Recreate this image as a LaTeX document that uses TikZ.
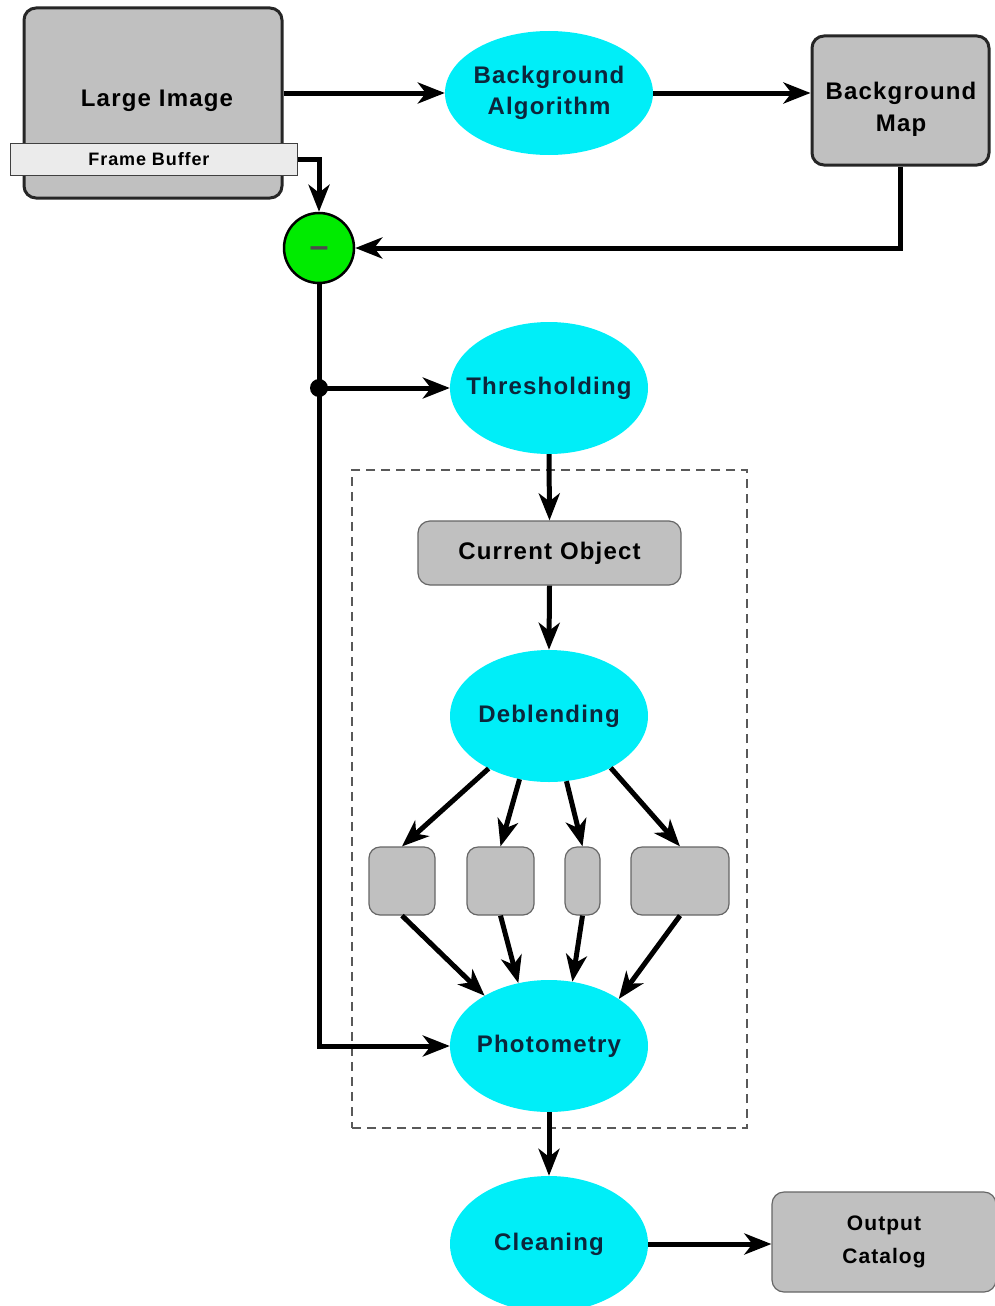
\documentclass[tikz,border=0pt]{standalone}
\usepackage{fontspec}
\setmainfont{Liberation Sans}[LetterSpace=5]
\usetikzlibrary{arrows.meta,shapes.geometric}
\definecolor{cy}{RGB}{0,238,248}
\definecolor{bx}{RGB}{192,192,192}
\definecolor{tx}{RGB}{12,38,60}
\definecolor{gr}{RGB}{0,235,0}
\begin{document}
\begin{tikzpicture}[x=1pt,y=-1pt,
  proc/.style={ellipse, fill=cy, inner xsep=-30pt, inner ysep=-10pt, text=tx, align=center,
    font=\fontsize{24}{31}\selectfont\bfseries},
  bigbox/.style={rectangle, rounded corners=12pt, fill=bx, draw=black!85,
    line width=3pt, inner sep=0pt, align=center, font=\fontsize{24}{31}\selectfont\bfseries},
  thinbox/.style={rectangle, rounded corners=11pt, fill=bx, draw=black!60,
    line width=1.2pt, inner sep=0pt, align=center},
  lbl/.style={align=center, inner sep=0pt},
  arr/.style={line width=5pt, -{Stealth[length=27pt,width=21pt,inset=8pt]}},
  grpbox/.style={draw=black!65, line width=1.5pt, dash pattern=on 9pt off 6pt},
]
\useasboundingbox (0,0) rectangle (994,1306);

% top row
\node[bigbox, minimum width=258pt, minimum height=190pt] (large) at (153,103) {};
\node[lbl, font=\fontsize{24}{31}\selectfont\bfseries] (largetxt) at (157,101) {Large Image};
\node[draw=black!75, fill=black!8, line width=1pt, minimum width=287pt, minimum height=32pt,
      inner sep=0pt] (fb) at (153.5,159) {};
\node[lbl, font=\fontsize{18}{20}\selectfont\bfseries] (fbtxt) at (149,159) {Frame Buffer};
\node[proc, minimum width=208pt, minimum height=124pt] (bga) at (549,93) {Background\\Algorithm};
\node[bigbox, minimum width=177pt, minimum height=129pt] (map) at (900.5,100.5) {};
\node[lbl, font=\fontsize{24}{32}\selectfont\bfseries] (maptxt) at (901,109) {Background\\Map};

\node[circle, fill=gr, draw=black, line width=2.5pt, minimum size=70pt, inner sep=0pt] (minus) at (319,248) {};
\node[lbl, text=black!70, font=\fontsize{34}{34}\selectfont\bfseries] (minustxt) at (319,252) {\textendash};

\node[circle, fill=black, minimum size=18pt, inner sep=0pt] (dot) at (319,388) {};

% main column
\node[proc, minimum width=198pt, minimum height=132pt] (thr) at (549,388) {Thresholding};
\node[grpbox, minimum width=395pt, minimum height=658pt, inner sep=0pt] (grp) at (549.5,799) {};
\node[thinbox, minimum width=263pt, minimum height=64pt, rounded corners=12pt,
      font=\fontsize{24}{28}\selectfont\bfseries] (cur) at (549.5,553) {Current Object};
\node[proc, minimum width=198pt, minimum height=132pt] (deb) at (549,716) {Deblending};

\node[thinbox, minimum width=66pt, minimum height=68pt] (b1) at (402,881) {};
\node[thinbox, minimum width=67pt, minimum height=68pt] (b2) at (500.5,881) {};
\node[thinbox, minimum width=35pt, minimum height=68pt, rounded corners=12pt] (b3) at (582.5,881) {};
\node[thinbox, minimum width=98pt, minimum height=68pt] (b4) at (680,881) {};

\node[proc, minimum width=198pt, minimum height=132pt] (phot) at (549,1046) {Photometry};
\node[proc, minimum width=198pt, minimum height=136pt] (clean) at (549,1244) {Cleaning};
\node[thinbox, minimum width=224pt, minimum height=100pt, rounded corners=12pt,
      font=\fontsize{21}{33}\selectfont\bfseries] (out) at (884,1242) {Output\\Catalog};

% connectors
\draw[arr] (large.east |- bga.west) -- (bga.west);
\draw[arr] (bga.east) -- (map.west |- bga.east);
\draw[arr] (fb.east) -| (minus.north);
\draw[arr] (map.south) |- (minus.east);
\draw[arr] (minus.south) |- (phot.west);
\draw[arr] (dot.center) -- (thr.west);
\draw[arr] (thr.south) -- (cur.north);
\draw[arr] (cur.south) -- (deb.north);

\draw[arr] (deb.221) -- (b1.north);
\draw[arr] (deb.245) -- (b2.north);
\draw[arr] (deb.285) -- (b3.north);
\draw[arr] (deb.320) -- (b4.north);

\draw[arr] (b1.south) -- (phot.142);
\draw[arr] (b2.south) -- (phot.116);
\draw[arr] (b3.south) -- (phot.70);
\draw[arr] (b4.south) -- (phot.34);

\draw[arr] (phot.south) -- (clean.north);
\draw[arr] (clean.east) -- (out.west |- clean.east);
\end{tikzpicture}
\end{document}
